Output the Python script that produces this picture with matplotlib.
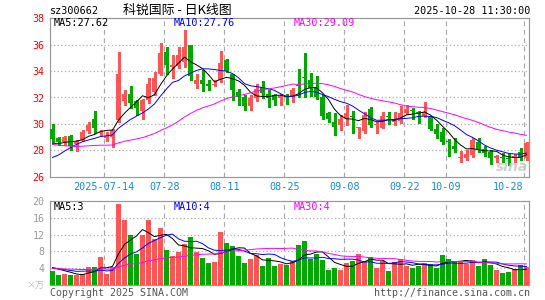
import numpy as np
import matplotlib
matplotlib.use("Agg")
import matplotlib.pyplot as plt
from matplotlib.transforms import blended_transform_factory

# ---------------- data ----------------
opens = [29.6, 28.9, 28.65, 29.1, 28.5, 28.8, 29.45, 30.4, 29.3, 28.95,
         29.0, 30.3, 31.75, 32.3, 31.7, 31.0, 31.8, 32.45, 33.8, 35.45,
         34.3, 34.35, 34.7, 35.95, 33.05, 33.3, 33.0, 32.95, 33.35, 34.84,
         33.75, 32.44, 32.06, 31.35, 31.98, 32.8, 32.26, 32.19, 31.98, 32.15,
         32.06, 32.98, 33.55, 33.32, 32.69, 32.06, 30.8, 30.17, 29.91, 30.34,
         30.6, 29.7, 29.46, 31.13, 29.9, 29.71, 30.6, 30.17, 30.2, 30.8,
         31.0, 30.85, 30.62, 30.55, 29.6, 29.4, 28.68, 28.35, 27.4, 27.44,
         27.64, 28.65, 28.1, 27.9, 27.39, 27.5, 27.45, 27.45, 27.84, 27.44]
highs = [29.96, 29.0, 29.1, 29.15, 28.8, 29.5, 30.15, 30.97, 29.5, 29.35,
         29.65, 35.45, 32.55, 32.85, 31.8, 31.9, 33.5, 33.9, 36.1, 35.85,
         35.2, 35.85, 37.1, 36.0, 33.8, 34.1, 33.3, 33.3, 35.5, 34.9,
         33.8, 32.64, 32.2, 32.19, 33.0, 33.25, 32.57, 32.3, 32.3, 32.3,
         32.7, 34.15, 35.35, 33.83, 33.6, 32.19, 30.87, 30.8, 30.67, 31.43,
         30.97, 29.8, 30.87, 31.3, 30.17, 30.87, 30.9, 30.87, 31.38, 31.43,
         31.18, 31.0, 31.63, 30.6, 29.96, 29.66, 28.85, 28.9, 27.94, 28.0,
         28.9, 28.95, 28.35, 28.0, 27.64, 27.8, 27.7, 27.7, 28.15, 28.6]
lows = [28.65, 28.4, 28.4, 28.0, 27.95, 28.7, 29.3, 29.3, 29.15, 28.7,
        28.25, 30.15, 31.45, 31.2, 30.7, 30.4, 31.55, 32.2, 33.7, 33.8,
        33.5, 34.2, 34.3, 33.3, 32.7, 32.5, 32.6, 32.85, 33.2, 33.95,
        31.8, 31.43, 31.05, 31.05, 31.73, 31.93, 31.28, 31.43, 31.43, 31.5,
        31.68, 32.06, 32.06, 32.14, 31.9, 30.4, 30.17, 29.16, 29.54, 29.91,
        29.28, 28.9, 29.28, 29.79, 29.28, 29.66, 30.0, 29.9, 30.1, 30.75,
        30.37, 30.1, 30.54, 29.5, 28.9, 28.5, 27.6, 27.85, 27.1, 27.3,
        27.5, 27.9, 27.6, 26.93, 27.1, 27.1, 26.9, 27.1, 27.3, 27.26]
closes = [28.85, 28.65, 29.0, 28.3, 28.65, 29.4, 29.95, 29.7, 29.4, 29.1,
          29.5, 33.75, 32.3, 31.6, 31.2, 31.8, 33.0, 33.5, 35.35, 34.5,
          34.45, 35.2, 35.8, 33.6, 33.3, 33.05, 32.9, 33.05, 34.6, 34.03,
          32.57, 32.06, 31.35, 31.98, 32.64, 32.36, 31.98, 31.8, 32.1, 32.05,
          32.57, 32.9, 33.45, 32.74, 32.06, 30.6, 30.37, 29.79, 30.37, 30.8,
          30.5, 29.76, 30.67, 29.91, 29.98, 30.62, 30.5, 30.34, 30.8, 31.13,
          30.95, 30.8, 30.87, 29.6, 29.23, 28.6, 28.6, 28.1, 27.5, 27.7,
          28.78, 28.1, 27.77, 27.39, 27.57, 27.4, 27.35, 27.6, 27.44, 28.53]
volumes = [3.33, 2.38, 2.62, 2.38, 2.38, 2.62, 4.29, 4.29, 6.67, 2.62,
           4.29, 19.3, 15.5, 11.9, 7.4, 11.9, 15.5, 10.9, 13.6, 8.3,
           6.9, 7.9, 9.8, 11.4, 7.9, 6.4, 5.2, 5.5, 12.6, 10.0,
           9.3, 6.9, 5.2, 6.2, 7.1, 4.5, 6.4, 4.5, 5.0, 4.8,
           5.8, 9.6, 10.5, 6.1, 7.3, 5.9, 3.6, 4.0, 3.6, 5.2,
           5.8, 7.3, 5.8, 6.7, 4.0, 5.7, 3.3, 5.5, 6.2, 4.5,
           4.0, 4.5, 5.2, 5.0, 4.0, 7.1, 6.2, 5.5, 5.5, 5.0,
           6.0, 4.5, 6.2, 4.8, 3.6, 2.9, 3.1, 3.8, 4.8, 4.3]
# closes / volumes before the visible window (inferred from the MA lines' start)
pre_closes = [30.6, 30.2, 29.4, 29.0, 29.1, 28.9, 29.0, 28.8, 29.1, 28.9,
              29.0, 28.7, 28.9, 28.6, 28.8, 28.5, 28.7, 28.4, 28.6, 27.7,
              26.85, 26.0, 25.7, 26.15, 27.4, 28.65, 28.5, 28.0, 28.5]
pre_volumes = [3.5, 4.2, 3.6, 4.0, 3.9, 3.4, 3.7, 4.1, 3.8, 3.6,
               4.0, 3.9, 3.5, 3.8, 4.2, 3.6, 3.7, 3.9, 3.8, 3.8,
               4.8, 4.5, 4.6, 4.5, 2.1, 4.0, 4.6, 4.2, 4.5]
date_index = [9, 19, 29, 39, 49, 59, 66, 79]
date_labels = ["2025-07-14", "07-28", "08-11", "08-25", "09-08", "09-22", "10-09", "10-28"]
price_ticks = [26, 28, 30, 32, 34, 36, 38]
vol_ticks = [4, 8, 12, 16, 20]
price_ma_labels = ["MA5:27.62", "MA10:27.76", "MA30:29.09"]
vol_ma_labels = ["MA5:3", "MA10:4", "MA30:4"]
ma_colors = ["#000000", "#0000ff", "#ff00ff"]
title = "科锐国际 - 日K线图"
code = "sz300662"
stamp = "2025-10-28 11:30:00"

# ---------------- styling ----------------
RED = "#ff5555"
GREEN = "#00a800"
GRID = "#aaaaaa"
FRAME = "#999999"
MONO = "DejaVu Sans Mono"
W, H = 545, 300

o = np.array(opens); h = np.array(highs); l = np.array(lows); c = np.array(closes)
v = np.array(volumes)
n = len(c)
x = np.arange(n)
cols = np.where(c >= o, RED, GREEN)


def ma(pre, vals, k):
    full = np.concatenate([pre, vals])
    m = np.convolve(full, np.ones(k) / k, mode="valid")
    return m[-len(vals):]


fig = plt.figure(figsize=(W / 100, H / 100), dpi=100)
fig.patch.set_facecolor("white")

L, R = 50, 529
ax1 = fig.add_axes([L / W, 1 - 176.7 / H, (R - L) / W, (176.7 - 18.3) / H])
ax2 = fig.add_axes([L / W, 1 - 285 / H, (R - L) / W, (285 - 201) / H])

xlo = -2.5 / 6
xhi = xlo + (R - L) / 6
px = 0.72  # one pixel in points

for ax in (ax1, ax2):
    ax.set_xlim(xlo, xhi)
    ax.set_xticks([])
    for s in ax.spines.values():
        s.set_color(FRAME)
        s.set_linewidth(px * 1.2)
    for di in date_index:
        ax.axvline(di - 0.37, color=GRID, lw=px * 1.2, dashes=(4, 3), zorder=1)

# ---- price panel ----
ax1.set_ylim(26, 38)
for yv in price_ticks[1:-1]:
    ax1.axhline(yv, color=GRID, lw=px * 1.2, dashes=(1, 2), zorder=1)
ax1.vlines(x, l, h, colors=cols, lw=px * 1.1, zorder=3, antialiased=False)
ax1.bar(x, np.maximum(np.abs(c - o), 0.07), bottom=np.minimum(o, c), width=0.84,
        color=cols, linewidth=0, zorder=4, antialiased=False)
for k, col in zip([5, 10, 30], ma_colors):
    ax1.plot(x, ma(pre_closes, c, k), color=col, lw=0.7, zorder=5)
ax1.set_yticks(price_ticks)
ax1.set_yticklabels([str(t) for t in price_ticks], family=MONO)
ax1.tick_params(axis="y", length=0, pad=4, labelcolor="#ff0000", labelsize=7.2)

tr = blended_transform_factory(ax1.transData, ax1.transAxes)
yb = (176.7 - 187.5) / 158.4
for i, (di, lab) in enumerate(zip(date_index, date_labels)):
    if i == len(date_index) - 1:
        fig.text(523 / W, 1 - 187.5 / H, lab, ha="right", va="center", color="#1a8ad4",
                 family=MONO, fontsize=7.3)
    else:
        ax1.text(di - 0.37, yb, lab, transform=tr, ha="center", va="center", color="#1a8ad4",
                 family=MONO, fontsize=7.3, clip_on=False)

# ---- volume panel ----
ax2.set_ylim(0, 20)
for yv in vol_ticks[:-1]:
    ax2.axhline(yv, color=GRID, lw=px * 1.2, dashes=(1, 2), zorder=1)
ax2.bar(x, v, width=0.84, color=cols, linewidth=0, zorder=3, antialiased=False)
for k, col in zip([5, 10, 30], ma_colors):
    ax2.plot(x, ma(pre_volumes, v, k), color=col, lw=0.7, zorder=5)
ax2.set_yticks(vol_ticks)
ax2.set_yticklabels([str(t) for t in vol_ticks], family=MONO)
ax2.tick_params(axis="y", length=0, pad=4, labelcolor="#999999", labelsize=7.2)


def ftext(px_x, px_y, s, **kw):
    fig.text(px_x / W, 1 - px_y / H, s, **kw)


# header
ftext(50, 11, code, ha="left", va="center", family=MONO, fontsize=7.3, color="black")
ftext(177, 10.5, title, ha="center", va="center", family=["Noto Sans CJK SC", "DejaVu Sans"],
      fontsize=9.3, color="black")
ftext(530, 11, stamp, ha="right", va="center", family=MONO, fontsize=7.3, color="black")

# MA legends
for xp, lab, col in zip([54, 174, 294], price_ma_labels, ma_colors):
    ftext(xp, 23.5, lab, ha="left", va="center", family=MONO, fontsize=7.3, color=col)
for xp, lab, col in zip([54, 174, 294], vol_ma_labels, ma_colors):
    ftext(xp, 206.5, lab, ha="left", va="center", family=MONO, fontsize=7.3, color=col)

# footer
ftext(44, 286.5, "×万", ha="right", va="center", family=["Noto Sans CJK SC", "DejaVu Sans"],
      fontsize=6.5, color="#bbbbbb")
ftext(50, 292.5, "Copyright 2025 SINA.COM", ha="left", va="center", family=MONO,
      fontsize=7.2, color="#555555")
ftext(530, 293, "http://finance.sina.com.cn", ha="right", va="center", family=MONO,
      fontsize=7.2, color="#555555")
ftext(512, 166.5, "sina", ha="center", va="center", family="DejaVu Sans", fontsize=10,
      fontweight="bold", style="italic", color="#c8c8c8", alpha=0.85, zorder=10)

fig.savefig("out.png", dpi=100, facecolor="white")
